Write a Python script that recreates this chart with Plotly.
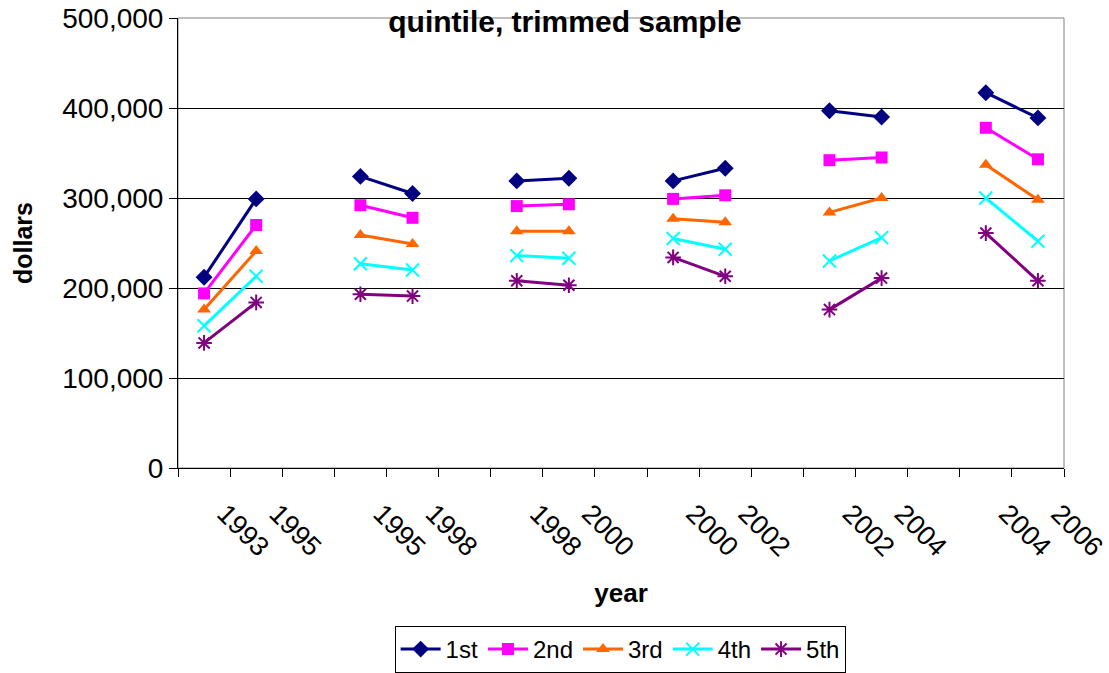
import plotly.graph_objects as go

# category slots along the x axis ("" = empty gap slot between periods)
year_labels = ["1993", "1995", "", "1995", "1998", "", "1998", "2000", "",
               "2000", "2002", "", "2002", "2004", "", "2004", "2006"]

q1 = [212000, 299000, None, 324000, 305000, None, 319000, 322000, None,
      319000, 333000, None, 397000, 390000, None, 417000, 389000]
q2 = [194000, 270000, None, 292000, 278000, None, 291000, 293000, None,
      299000, 303000, None, 342000, 345000, None, 378000, 343000]
q3 = [176000, 241000, None, 259000, 249000, None, 263000, 263000, None,
      277000, 273000, None, 284000, 300000, None, 337000, 298000]
q4 = [158000, 213000, None, 227000, 220000, None, 236000, 233000, None,
      255000, 243000, None, 230000, 256000, None, 300000, 252000]
q5 = [139000, 184000, None, 193000, 191000, None, 208000, 203000, None,
      234000, 213000, None, 176000, 211000, None, 261000, 208000]

names = ["1st", "2nd", "3rd", "4th", "5th"]
series = [q1, q2, q3, q4, q5]

FONT = "Arial, Liberation Sans, sans-serif"

styles = [
    dict(color="#000080", symbol="diamond", size=13, lw=0),
    dict(color="#FF00FF", symbol="square", size=12, lw=0),
    dict(color="#FF6600", symbol="triangle-up", size=12, lw=0),
    dict(color="#00FFFF", symbol="x-thin-open", size=13, lw=2),
    dict(color="#800080", symbol="asterisk-open", size=13, lw=2),
]

xpos = list(range(len(year_labels)))

fig = go.Figure()
for name, vals, st in zip(names, series, styles):
    fig.add_trace(go.Scatter(
        x=xpos, y=vals, name=name, mode="lines+markers",
        line=dict(color=st["color"], width=3),
        marker=dict(symbol=st["symbol"], size=st["size"], color=st["color"],
                    line=dict(color=st["color"], width=st["lw"])),
    ))

tick_pos = [i for i, t in enumerate(year_labels) if t]
tick_txt = [t for t in year_labels if t]

W, H = 1109, 673

fig.update_layout(
    width=W, height=H,
    margin=dict(l=178, r=45, t=18, b=205),
    paper_bgcolor="white", plot_bgcolor="white",
    font=dict(family=FONT, color="black", size=24),
    title=dict(text="<b>quintile, trimmed sample</b>",
               font=dict(size=30, family=FONT),
               x=565 / W, xanchor="center", xref="container",
               y=1 - 21 / H, yanchor="middle", yref="container"),
    legend=dict(orientation="h", x=0.499, xanchor="center",
                yref="container", y=1 - 626 / H, yanchor="top",
                bordercolor="black", borderwidth=1,
                font=dict(size=24), itemwidth=40, tracegroupgap=0),
    showlegend=True,
)

fig.update_xaxes(
    range=[-0.5, len(year_labels) - 0.5],
    tickmode="array", tickvals=tick_pos, ticktext=tick_txt,
    tickangle=45, ticks="", showgrid=False, zeroline=False,
    ticklabelstandoff=18, ticklabelshift=21, ticklabeloverflow="allow",
    tickfont=dict(size=27),
    minor=dict(tickmode="linear", tick0=-0.5, dtick=1, ticks="outside",
               ticklen=8, tickcolor="black", showgrid=False),
    showline=True, linecolor="black", linewidth=1,
    title=dict(text="<b>year</b>", font=dict(size=26), standoff=22),
    automargin=False,
)

fig.update_yaxes(
    range=[0, 500000], dtick=100000, tickformat=",",
    ticks="outside", ticklen=8, tickcolor="black",
    showgrid=True, gridcolor="black", gridwidth=1, zeroline=False,
    showline=True, linecolor="black", linewidth=1,
    tickfont=dict(size=28), ticklabeloverflow="allow",
    title=dict(text="<b>dollars</b>", font=dict(size=25), standoff=22),
    automargin=False,
)

# gray plot-area frame (top and right edges)
fig.add_shape(type="rect", xref="paper", yref="paper", x0=0, x1=1, y0=0, y1=1,
              line=dict(color="#808080", width=1), layer="below")

# drop the browser's default 8px body margin so the figure fills the window
fig.write_html("out.html", config={"displayModeBar": False},
               post_script="document.body.style.margin = '0';")
